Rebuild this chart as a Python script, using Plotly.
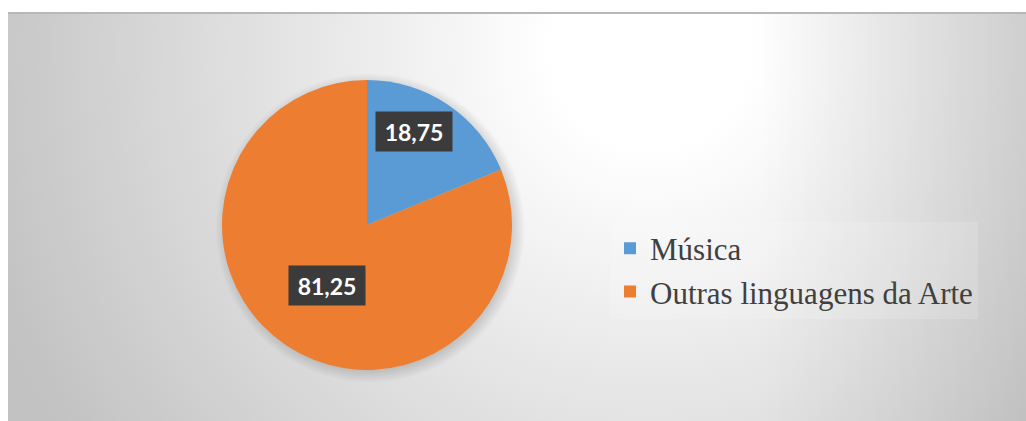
import base64
import math
import plotly.graph_objects as go

# ---- data ----
labels = ["Música", "Outras linguagens da Arte"]
values = [18.75, 81.25]
colors = ["#5B9BD5", "#ED7D31"]

# ---- geometry / style ----
W, H = 1026, 421
pie_cx_px, pie_cy_px, pie_r_px = 367, 225, 145
label_radial = [0.72, 0.5]      # fraction of radius for data labels
label_angle_shift = [-7, 0]     # degrees

dom_x = [(pie_cx_px - pie_r_px) / W, (pie_cx_px + pie_r_px) / W]
dom_y = [1 - (pie_cy_px + pie_r_px) / H, 1 - (pie_cy_px - pie_r_px) / H]

# background: radial gradient (SVG image)
svg = f'''<svg xmlns="http://www.w3.org/2000/svg" width="{W}" height="{H}" viewBox="0 0 {W} {H}">
<defs>
<radialGradient id="g" gradientUnits="userSpaceOnUse" cx="650" cy="50" r="700">
<stop offset="0" stop-color="#ffffff"/>
<stop offset="0.14" stop-color="#ffffff"/>
<stop offset="1" stop-color="#c2c2c2"/>
</radialGradient>
<linearGradient id="d" x1="0" y1="0" x2="1" y2="0">
<stop offset="0" stop-color="#000000" stop-opacity="0"/>
<stop offset="1" stop-color="#000000" stop-opacity="0.09"/>
</linearGradient>
<radialGradient id="s" gradientUnits="userSpaceOnUse" cx="{pie_cx_px+3}" cy="{pie_cy_px+3}" r="{pie_r_px+10}">
<stop offset="0.9" stop-color="#000000" stop-opacity="0.18"/>
<stop offset="1" stop-color="#000000" stop-opacity="0"/>
</radialGradient>
</defs>
<rect x="0" y="0" width="{W}" height="{H}" fill="#ffffff"/>
<rect x="8" y="12" width="{W-8}" height="{H-12}" fill="url(#g)"/>
<rect x="760" y="12" width="{W-760}" height="{H-12}" fill="url(#d)"/>
<rect x="8" y="12" width="{W-8}" height="2" fill="#b8b8b8"/>
<circle cx="{pie_cx_px+3}" cy="{pie_cy_px+3}" r="{pie_r_px+10}" fill="url(#s)"/>
</svg>'''
svg_uri = "data:image/svg+xml;base64," + base64.b64encode(svg.encode()).decode()

fig = go.Figure()
fig.add_trace(go.Pie(
    labels=labels,
    values=values,
    marker=dict(colors=colors, line=dict(width=0)),
    sort=False,
    direction="clockwise",
    rotation=0,
    textinfo="none",
    domain=dict(x=dom_x, y=dom_y),
    showlegend=True,
))

# data labels (dark boxes) positioned from slice mid-angles
total = sum(values)
cum = 0.0
annotations = []
for i, v in enumerate(values):
    mid = (cum + v / 2) / total * 360 + label_angle_shift[i]
    cum += v
    rr = pie_r_px * label_radial[i]
    px = pie_cx_px + rr * math.sin(math.radians(mid))
    py = pie_cy_px - rr * math.cos(math.radians(mid))
    annotations.append(dict(
        x=px / W, y=1 - py / H, xref="paper", yref="paper",
        text=f"{v:.2f}".replace(".", ","),
        showarrow=False,
        font=dict(family="Lato", size=23, color="white", weight="bold"),
        bgcolor="#3b3b3b",
        width=74, height=37, borderpad=1,
        xanchor="center", yanchor="middle",
    ))

fig.update_layout(
    width=W, height=H,
    margin=dict(l=0, r=0, t=0, b=0),
    paper_bgcolor="white",
    plot_bgcolor="rgba(0,0,0,0)",
    images=[dict(source=svg_uri, xref="paper", yref="paper", x=0, y=1,
                 sizex=1, sizey=1, xanchor="left", yanchor="top",
                 sizing="stretch", layer="below")],
    annotations=annotations,
    legend=dict(
        x=610 / W, xanchor="left",
        y=1 - 270 / H, yanchor="middle",
        font=dict(family="Liberation Serif", size=31, color="#404040"),
        bgcolor="rgba(255,255,255,0.15)",
        itemwidth=30,
    ),
)

fig.write_html("out.html")
